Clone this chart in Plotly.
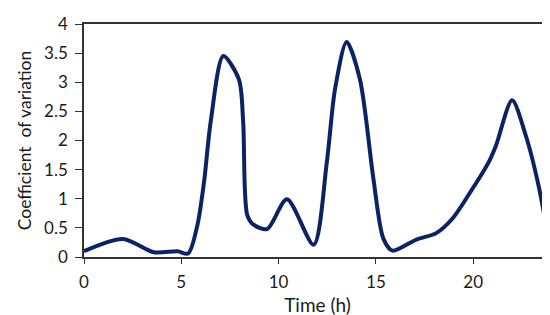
import plotly.graph_objects as go

time_h = [0, 2.0, 3.6, 4.8, 5.35, 5.83, 6.17, 6.51, 7.16, 7.96, 8.18, 8.39, 8.73, 9.41,
          10.43, 11.8, 12.48, 12.9, 13.5, 14.18, 14.87, 15.38, 15.85,
          17.08, 18.1, 18.96, 19.98, 20.8, 21.18, 22.0, 22.7, 23.39, 24.0]
cv = [0.10, 0.31, 0.08, 0.10, 0.06, 0.55, 1.29, 2.32, 3.45, 3.05, 2.32, 0.72, 0.55, 0.48,
      0.99, 0.21, 1.63, 2.88, 3.69, 3.05, 1.35, 0.32, 0.11,
      0.30, 0.41, 0.67, 1.18, 1.63, 1.92, 2.69, 2.09, 1.18, 0.05]

x_ticks = [0, 5, 10, 15, 20]
y_ticks = [0, 0.5, 1, 1.5, 2, 2.5, 3, 3.5, 4]
y_tick_labels = ["0", "0.5", "1", "1.5", "2", "2.5", "3", "3.5", "4"]

fig = go.Figure()
fig.add_trace(go.Scatter(
    x=time_h, y=cv, mode="lines",
    line=dict(color="#0b2266", width=4, shape="spline", smoothing=0.8),
    showlegend=False,
))

font_family = "Lato, Open Sans, sans-serif"
fig.update_layout(
    width=550, height=315,
    margin=dict(l=76, r=5, t=15, b=66),
    paper_bgcolor="white", plot_bgcolor="white",
    font=dict(family=font_family, color="#1a1a1a", size=17),
)
fig.update_xaxes(
    range=[0, 24], tickvals=x_ticks, ticktext=[str(v) for v in x_ticks],
    showgrid=False, zeroline=False,
    showline=True, linecolor="#333333", linewidth=1.5, mirror=True,
    ticks="outside", ticklen=5, tickcolor="#333333",
    tickfont=dict(size=17), ticklabelstandoff=4,
    title=dict(text="Time (h)", font=dict(size=19), standoff=8),
)
fig.update_yaxes(
    range=[0, 4], tickvals=y_ticks, ticktext=y_tick_labels,
    showgrid=False, zeroline=False,
    showline=True, linecolor="#333333", linewidth=1.5, mirror=True,
    ticks="outside", ticklen=7, tickcolor="#333333",
    tickfont=dict(size=17), ticklabelstandoff=4,
    title=dict(text="Coefficient  of variation", font=dict(size=17.5), standoff=8),
)

fig.write_html("out.html")
